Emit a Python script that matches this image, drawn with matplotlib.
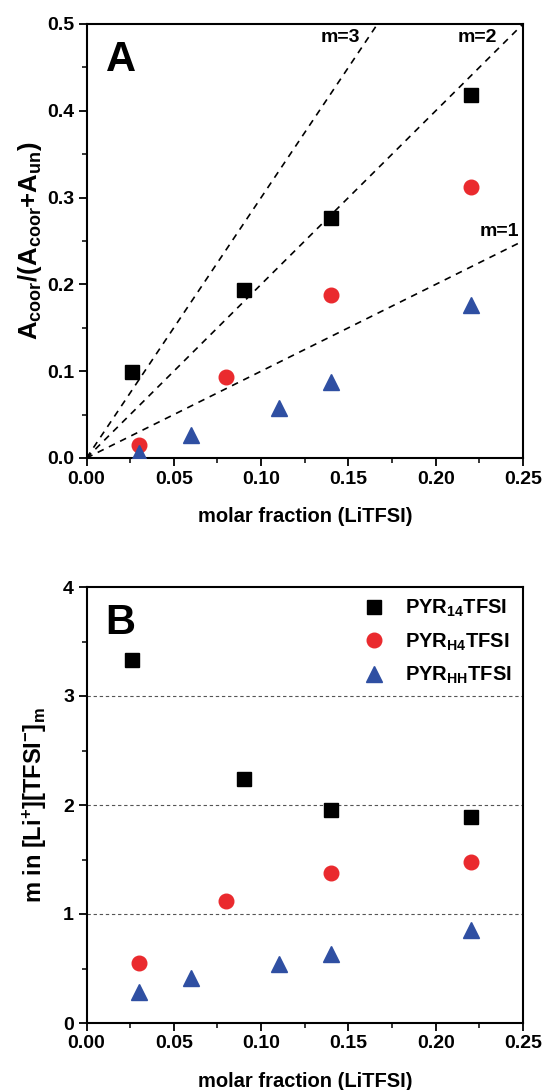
import matplotlib
matplotlib.use("Agg")
import matplotlib.pyplot as plt
from matplotlib.ticker import MultipleLocator, FormatStrFormatter

plt.rcParams['font.family'] = ['Liberation Sans', 'DejaVu Sans']
plt.rcParams['font.weight'] = 'bold'
plt.rcParams['mathtext.fontset'] = 'custom'
plt.rcParams['mathtext.rm'] = 'Liberation Sans:bold'
plt.rcParams['mathtext.it'] = 'Liberation Sans:bold'
plt.rcParams['mathtext.bf'] = 'Liberation Sans:bold'

# Panel A data
xA_14 = [0.026, 0.09, 0.14, 0.22]
yA_14 = [0.099, 0.194, 0.277, 0.418]
xA_H4 = [0.03, 0.08, 0.14, 0.22]
yA_H4 = [0.015, 0.093, 0.188, 0.312]
xA_HH = [0.03, 0.06, 0.11, 0.14, 0.22]
yA_HH = [0.006, 0.027, 0.058, 0.088, 0.176]
m_values = [1, 2, 3]

# Panel B data
xB_14 = [0.026, 0.09, 0.14, 0.22]
yB_14 = [3.33, 2.24, 1.95, 1.89]
xB_H4 = [0.03, 0.08, 0.14, 0.22]
yB_H4 = [0.55, 1.12, 1.38, 1.48]
xB_HH = [0.03, 0.06, 0.11, 0.14, 0.22]
yB_HH = [0.28, 0.41, 0.54, 0.63, 0.85]
ref_lines = [1, 2, 3]

labels = ['PYR$_{14}$TFSI', 'PYR$_{H4}$TFSI', 'PYR$_{HH}$TFSI']
colors = ['#000000', '#EA2A2E', '#2F4FA2']

W, H = 544, 1090
fig = plt.figure(figsize=(W/100, H/100), dpi=100)
left = 86.5/W
width = (523-86.5)/W
axA = fig.add_axes([left, 1-458/H, width, (458-24)/H])
axB = fig.add_axes([left, 1-1023/H, width, (1023-587)/H])

def style(ax):
    for s in ax.spines.values():
        s.set_linewidth(1.5)
    ax.tick_params(which='major', direction='out', length=6, width=1.3,
                   labelsize=14, top=False, right=False, pad=3)
    ax.tick_params(which='minor', direction='out', length=3.5, width=1.1,
                   top=False, right=False)
    for lab in ax.get_xticklabels() + ax.get_yticklabels():
        lab.set_fontweight('bold')
    ax.xaxis.set_major_locator(MultipleLocator(0.05))
    ax.xaxis.set_minor_locator(MultipleLocator(0.025))
    ax.xaxis.set_major_formatter(FormatStrFormatter('%.2f'))
    ax.set_xlim(0, 0.25)
    ax.set_xlabel('molar fraction (LiTFSI)', fontsize=14.5, fontweight='bold', labelpad=14)

# Panel A
for m in m_values:
    xe = min(0.25, 0.5/m)
    axA.plot([0, xe], [0, m*xe], ls=(0, (4, 3.5)), color='black', lw=1.2, zorder=1)
axA.plot(xA_14, yA_14, 's', color=colors[0], ms=9.5, zorder=3)
axA.plot(xA_H4, yA_H4, 'o', color=colors[1], ms=10.5, zorder=3)
axA.plot(xA_HH, yA_HH, '^', color=colors[2], ms=12, zorder=3)
axA.set_ylim(0, 0.5)
axA.yaxis.set_major_locator(MultipleLocator(0.1))
axA.yaxis.set_minor_locator(MultipleLocator(0.05))
axA.yaxis.set_major_formatter(FormatStrFormatter('%.1f'))
axA.set_ylabel(r'A$_{\rm coor}$/(A$_{\rm coor}$+A$_{\rm un}$)', fontsize=18.5, fontweight='bold', labelpad=2)
axA.text(0.1566, 0.484, 'm=3', ha='right', va='center', fontsize=14, fontweight='bold')
axA.text(0.2352, 0.484, 'm=2', ha='right', va='center', fontsize=14, fontweight='bold')
axA.text(0.2475, 0.261, 'm=1', ha='right', va='center', fontsize=14, fontweight='bold')
axA.text(0.011, 0.458, 'A', ha='left', va='center', fontsize=30, fontweight='bold')
style(axA)

# Panel B
for r in ref_lines:
    axB.axhline(r, color='#555555', ls=(0, (3, 2.5)), lw=0.8, zorder=1)
axB.plot(xB_14, yB_14, 's', color=colors[0], ms=9.5, zorder=3, label=labels[0])
axB.plot(xB_H4, yB_H4, 'o', color=colors[1], ms=10.5, zorder=3, label=labels[1])
axB.plot(xB_HH, yB_HH, '^', color=colors[2], ms=12, zorder=3, label=labels[2])
axB.set_ylim(0, 4)
axB.yaxis.set_major_locator(MultipleLocator(1))
axB.yaxis.set_minor_locator(MultipleLocator(0.5))
axB.yaxis.set_major_formatter(FormatStrFormatter('%d'))
axB.set_ylabel(r'm in [Li$^{+}$][TFSI$^{-}$]$_{\rm m}$', fontsize=17, fontweight='bold', labelpad=10)
axB.text(0.011, 3.67, 'B', ha='left', va='center', fontsize=30, fontweight='bold')
leg = axB.legend(loc='upper right', frameon=False, fontsize=14.5, handletextpad=0.8,
                 labelspacing=0.6, borderaxespad=0.15, handlelength=1.5)
for t in leg.get_texts():
    t.set_fontweight('bold')
style(axB)

fig.savefig('out.png', dpi=100)
